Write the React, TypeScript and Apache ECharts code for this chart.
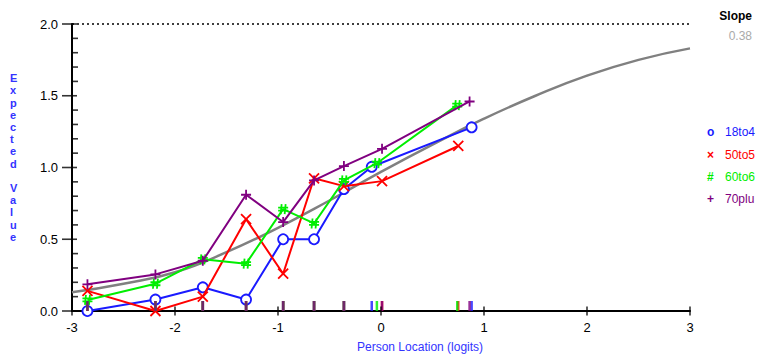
import React, { useEffect, useRef } from "react";
import * as echarts from "echarts";

const xTicks = [-3, -2, -1, 0, 1, 2, 3];
const yMajorTicks = [0, 0.5, 1, 1.5, 2];
const yMinorTicks = [0.1, 0.2, 0.3, 0.4, 0.6, 0.7, 0.8, 0.9, 1.1, 1.2, 1.3, 1.4, 1.6, 1.7, 1.8, 1.9];
const curveX = [-3, -2.5, -2, -1.5, -1, -0.5, 0, 0.5, 1, 1.5, 2, 2.5, 3];
const curveY = [0.13, 0.19, 0.27, 0.41, 0.58, 0.77, 0.97, 1.16, 1.34, 1.5, 1.64, 1.75, 1.83];

const groupNames = ["18to4", "50to5", "60to6", "70plu"];
const groupColors = ["#1a1aff", "#ff0000", "#00ee00", "#800080"];
const groupMarks = ["o", "×", "#", "+"];

const blueX = [-2.85, -2.19, -1.73, -1.31, -0.95, -0.65, -0.36, -0.09, 0.88];
const blueY = [0.0, 0.08, 0.165, 0.08, 0.5, 0.5, 0.85, 1.005, 1.28];
const redX = [-2.85, -2.19, -1.73, -1.31, -0.95, -0.65, -0.36, 0.01, 0.75];
const redY = [0.14, 0.0, 0.1, 0.64, 0.26, 0.925, 0.87, 0.905, 1.15];
const greenX = [-2.85, -2.19, -1.73, -1.31, -0.95, -0.65, -0.36, -0.04, 0.74];
const greenY = [0.077, 0.19, 0.36, 0.33, 0.71, 0.61, 0.91, 1.03, 1.435];
const purpleX = [-2.85, -2.19, -1.73, -1.31, -0.95, -0.65, -0.36, 0.01, 0.86];
const purpleY = [0.186, 0.255, 0.35, 0.81, 0.62, 0.91, 1.01, 1.13, 1.46];

const slopeValue = "0.38";

const seriesX = [blueX, redX, greenX, purpleX];
const seriesY = [blueY, redY, greenY, purpleY];

const symbols = [
  "circle",
  "path://M0,0L10,10M10,0L0,10",
  "path://M3.5,0L2.5,10M7.5,0L6.5,10M0,3.5L10,3.5M0,6.5L10,6.5",
  "path://M5,0L5,10M0,5L10,5",
];

export default function App() {
  const ref = useRef<HTMLDivElement>(null);
  useEffect(() => {
    if (!ref.current) return;
    const chart = echarts.init(ref.current, undefined, { renderer: "svg" });
    const font = "Liberation Sans, Arial, sans-serif";

    const lineSeries: any[] = groupNames.map((name, i) => ({
      type: "line",
      name,
      data: seriesX[i].map((x, j) => [x, seriesY[i][j]]),
      symbol: symbols[i],
      symbolSize: 10,
      showAllSymbol: true,
      lineStyle: { color: groupColors[i], width: 2 },
      itemStyle: {
        color: i === 0 ? "#ffffff" : "rgba(0,0,0,0)",
        borderColor: groupColors[i],
        borderWidth: 1.8,
      },
      z: 3 + i,
    }));

    const rugSeries: any[] = groupNames.map((name, i) => ({
      type: "scatter",
      name: name + " ticks",
      data: seriesX[i].map((x) => [x, 0]),
      symbol: "rect",
      symbolSize: [2.5, 10],
      symbolOffset: [0, "-50%"],
      itemStyle: { color: groupColors[i] },
      silent: true,
      z: 2 + i,
    }));

    const yMajorSeries = {
      type: "scatter",
      name: "y major ticks",
      data: yMajorTicks.map((v) => [-3, v]),
      symbol: "rect",
      symbolSize: [15, 1.6],
      symbolOffset: [-2.5, 0],
      itemStyle: { color: "#000" },
      silent: true,
      clip: false,
      z: 10,
    };
    const yMinorSeries = {
      type: "scatter",
      name: "y minor ticks",
      data: yMinorTicks.map((v) => [-3, v]),
      symbol: "rect",
      symbolSize: [6, 1.6],
      symbolOffset: [3, 0],
      itemStyle: { color: "#000" },
      silent: true,
      clip: false,
      z: 10,
    };
    const xTickSeries = {
      type: "scatter",
      name: "x ticks",
      data: xTicks.map((v) => [v, 0]),
      symbol: "rect",
      symbolSize: [1.6, 9],
      itemStyle: { color: "#000" },
      silent: true,
      clip: false,
      z: 10,
    };

    const legendGraphics: any[] = [];
    groupNames.forEach((name, i) => {
      const y = [134, 157, 179, 201][i];
      legendGraphics.push({
        type: "text",
        left: 707,
        top: y - 8,
        style: { text: groupMarks[i], fill: groupColors[i], font: `bold 12px ${font}` },
      });
      legendGraphics.push({
        type: "text",
        left: 725,
        top: y - 8,
        style: { text: name, fill: groupColors[i], font: `12px ${font}` },
      });
    });

    chart.setOption({
      animation: false,
      grid: { left: 72, right: 67, top: 24, bottom: 45, containLabel: false },
      xAxis: {
        type: "value",
        min: -3,
        max: 3,
        interval: 1,
        axisLine: { show: true, onZero: false, lineStyle: { color: "#000", width: 2 } },
        axisTick: { show: false },
        axisLabel: { color: "#000", fontSize: 13, fontFamily: font, margin: 10 },
        splitLine: { show: false },
      },
      yAxis: {
        type: "value",
        min: 0,
        max: 2,
        interval: 0.5,
        axisLine: { show: true, onZero: false, lineStyle: { color: "#000", width: 2 } },
        axisTick: { show: false },
        axisLabel: {
          color: "#000",
          fontSize: 13,
          fontFamily: font,
          margin: 14,
          formatter: (v: number) => v.toFixed(1),
        },
        splitLine: { show: false },
      },
      series: [
        {
          type: "line",
          name: "Expected",
          data: curveX.map((x, j) => [x, curveY[j]]),
          smooth: true,
          symbol: "none",
          lineStyle: { color: "#808080", width: 2.5 },
          z: 1,
          markLine: {
            silent: true,
            symbol: ["none", "none"],
            label: { show: false },
            lineStyle: { type: [2, 3], color: "#000", width: 1.5 },
            data: [{ yAxis: 2 }],
          },
        },
        ...lineSeries,
        ...rugSeries,
        yMajorSeries,
        yMinorSeries,
        xTickSeries,
      ],
      graphic: [
        {
          type: "text",
          left: 10,
          top: 72,
          style: {
            text: "Expected Value".split("").join("\n"),
            fill: "#3333ff",
            font: `bold 11px ${font}`,
            lineHeight: 12.2,
            align: "center",
            width: 12,
          },
        },
        {
          type: "text",
          left: 357,
          top: 341,
          style: { text: "Person Location (logits)", fill: "#3333ff", font: `12px ${font}` },
        },
        {
          type: "text",
          right: 5,
          top: 10,
          style: { text: "Slope", fill: "#000", font: `bold 12px ${font}` },
        },
        {
          type: "text",
          right: 5,
          top: 30,
          style: { text: slopeValue, fill: "#aaaaaa", font: `12px ${font}` },
        },
        ...legendGraphics,
      ],
    });
    return () => chart.dispose();
  }, []);
  return (
    <div
      ref={ref}
      style={{ position: "fixed", left: 0, top: 0, width: 757, height: 356, background: "#fff" }}
    />
  );
}
